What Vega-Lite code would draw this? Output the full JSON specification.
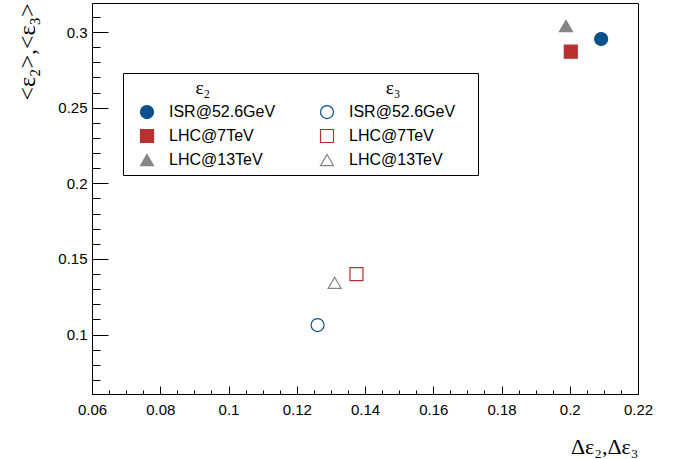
{
  "$schema": "https://vega.github.io/schema/vega-lite/v6.json",
  "width": 546,
  "height": 391,
  "autosize": {"type": "none"},
  "padding": {"left": 92, "top": 3, "right": 48, "bottom": 65},
  "background": "white",
  "config": {
    "view": {"stroke": "black", "strokeWidth": 1},
    "axis": {
      "grid": false,
      "domain": false,
      "tickColor": "black",
      "tickWidth": 1,
      "labelFont": "Liberation Sans",
      "labelFontSize": 15,
      "labelColor": "black",
      "labelFlush": false,
      "labelOverlap": false,
      "titleFont": "Liberation Serif",
      "titleFontWeight": "normal",
      "titleColor": "black",
      "titleFontSize": 22
    },
    "legend": {
      "orient": "none", "legendX": 31, "legendY": 70, "columns": 2, "gridAlign": "all",
      "strokeColor": "black", "fillColor": "white", "padding": 6,
      "symbolOffset": 10, "labelOffset": 14, "columnPadding": 33, "rowPadding": 6,
      "labelFont": "Liberation Sans", "labelFontSize": 16, "labelColor": "black",
      "titleFont": "Liberation Serif", "titleFontSize": 19, "titleFontWeight": "normal",
      "titleColor": "black", "titlePadding": 6, "titleLimit": 600,
      "symbolSize": 169, "symbolStrokeWidth": 1.2
    }
  },
  "data": {
    "values": [
      {"series": "ISR@52.6GeV|2", "x": 0.2092, "y": 0.2954},
      {"series": "ISR@52.6GeV|3", "x": 0.1261, "y": 0.1063},
      {"series": "LHC@7TeV|2", "x": 0.2003, "y": 0.287},
      {"series": "LHC@7TeV|3", "x": 0.1375, "y": 0.140},
      {"series": "LHC@13TeV|2", "x": 0.1989, "y": 0.304},
      {"series": "LHC@13TeV|3", "x": 0.1311, "y": 0.1342}
    ]
  },
  "resolve": {"axis": {"x": "independent", "y": "independent"}},
  "layer": [
    {
      "mark": {"type": "point", "filled": false, "opacity": 1, "strokeWidth": 1.2, "size": 169},
      "encoding": {
        "x": {
          "field": "x", "type": "quantitative",
          "scale": {"domain": [0.06, 0.22], "nice": false, "zero": false},
          "axis": {
            "orient": "bottom",
            "values": [0.06, 0.08, 0.1, 0.12, 0.14, 0.16, 0.18, 0.2, 0.22],
            "format": "~g",
            "tickSize": -8,
            "labelPadding": 16,
            "title": "Δε₂,Δε₃",
            "titleAnchor": "end",
            "titlePadding": 19
          }
        },
        "y": {
          "field": "y", "type": "quantitative",
          "scale": {"domain": [0.0607, 0.3192], "nice": false, "zero": false},
          "axis": {
            "orient": "left",
            "values": [0.1, 0.15, 0.2, 0.25, 0.3],
            "format": "~g",
            "tickSize": -16,
            "labelPadding": 21,
            "title": "<ε₂>,<ε₃>",
            "titleFontSize": 24,
            "titleAnchor": "end",
            "titlePadding": 18
          }
        },
        "shape": {
          "field": "series", "type": "nominal",
          "scale": {
            "domain": ["ISR@52.6GeV|2", "LHC@7TeV|2", "LHC@13TeV|2", "ISR@52.6GeV|3", "LHC@7TeV|3", "LHC@13TeV|3"],
            "range": ["circle", "square", "triangle-up", "circle", "square", "triangle-up"]
          },
          "legend": {
            "title": "\u200b\u00a0\u00a0\u00a0\u00a0\u00a0\u00a0\u00a0\u00a0\u00a0\u00a0\u00a0\u00a0\u00a0\u00a0ε₂\u00a0\u00a0\u00a0\u00a0\u00a0\u00a0\u00a0\u00a0\u00a0\u00a0\u00a0\u00a0\u00a0\u00a0\u00a0\u00a0\u00a0\u00a0\u00a0\u00a0\u00a0\u00a0\u00a0\u00a0\u00a0\u00a0\u00a0\u00a0\u00a0\u00a0\u00a0\u00a0\u00a0\u00a0\u00a0\u00a0\u00a0ε₃\u00a0\u00a0\u00a0\u00a0\u00a0\u00a0\u00a0\u00a0\u00a0\u00a0\u00a0\u00a0\u00a0\u00a0\u00a0\u200b",
            "labelExpr": "split(datum.label, '|')[0]"
          }
        },
        "color": {
          "field": "series", "type": "nominal",
          "scale": {
            "domain": ["ISR@52.6GeV|2", "LHC@7TeV|2", "LHC@13TeV|2", "ISR@52.6GeV|3", "LHC@7TeV|3", "LHC@13TeV|3"],
            "range": ["#0b4f8c", "#b8312f", "#858585", "#0b4f8c", "#b8312f", "#858585"]
          },
          "legend": {
            "title": "\u200b\u00a0\u00a0\u00a0\u00a0\u00a0\u00a0\u00a0\u00a0\u00a0\u00a0\u00a0\u00a0\u00a0\u00a0ε₂\u00a0\u00a0\u00a0\u00a0\u00a0\u00a0\u00a0\u00a0\u00a0\u00a0\u00a0\u00a0\u00a0\u00a0\u00a0\u00a0\u00a0\u00a0\u00a0\u00a0\u00a0\u00a0\u00a0\u00a0\u00a0\u00a0\u00a0\u00a0\u00a0\u00a0\u00a0\u00a0\u00a0\u00a0\u00a0\u00a0\u00a0ε₃\u00a0\u00a0\u00a0\u00a0\u00a0\u00a0\u00a0\u00a0\u00a0\u00a0\u00a0\u00a0\u00a0\u00a0\u00a0\u200b",
            "labelExpr": "split(datum.label, '|')[0]"
          }
        },
        "fill": {
          "field": "series", "type": "nominal",
          "scale": {
            "domain": ["ISR@52.6GeV|2", "LHC@7TeV|2", "LHC@13TeV|2", "ISR@52.6GeV|3", "LHC@7TeV|3", "LHC@13TeV|3"],
            "range": ["#0b4f8c", "#b8312f", "#858585", "transparent", "transparent", "transparent"]
          },
          "legend": {
            "title": "\u200b\u00a0\u00a0\u00a0\u00a0\u00a0\u00a0\u00a0\u00a0\u00a0\u00a0\u00a0\u00a0\u00a0\u00a0ε₂\u00a0\u00a0\u00a0\u00a0\u00a0\u00a0\u00a0\u00a0\u00a0\u00a0\u00a0\u00a0\u00a0\u00a0\u00a0\u00a0\u00a0\u00a0\u00a0\u00a0\u00a0\u00a0\u00a0\u00a0\u00a0\u00a0\u00a0\u00a0\u00a0\u00a0\u00a0\u00a0\u00a0\u00a0\u00a0\u00a0\u00a0ε₃\u00a0\u00a0\u00a0\u00a0\u00a0\u00a0\u00a0\u00a0\u00a0\u00a0\u00a0\u00a0\u00a0\u00a0\u00a0\u200b",
            "labelExpr": "split(datum.label, '|')[0]"
          }
        }
      }
    },
    {
      "mark": {"type": "point", "opacity": 0},
      "encoding": {
        "x": {
          "field": "x", "type": "quantitative",
          "scale": {"domain": [0.06, 0.22], "nice": false, "zero": false},
          "axis": {
            "orient": "bottom",
            "values": [0.06, 0.065, 0.07, 0.075, 0.08, 0.085, 0.09, 0.095, 0.1, 0.105, 0.11, 0.115, 0.12, 0.125, 0.13, 0.135, 0.14, 0.145, 0.15, 0.155, 0.16, 0.165, 0.17, 0.175, 0.18, 0.185, 0.19, 0.195, 0.2, 0.205, 0.21, 0.215, 0.22],
            "labels": false,
            "tickSize": -4,
            "title": null
          }
        },
        "y": {
          "field": "y", "type": "quantitative",
          "scale": {"domain": [0.0607, 0.3192], "nice": false, "zero": false},
          "axis": {
            "orient": "left",
            "values": [0.07, 0.08, 0.09, 0.1, 0.11, 0.12, 0.13, 0.14, 0.15, 0.16, 0.17, 0.18, 0.19, 0.2, 0.21, 0.22, 0.23, 0.24, 0.25, 0.26, 0.27, 0.28, 0.29, 0.3, 0.31],
            "labels": false,
            "tickSize": -8,
            "title": null
          }
        }
      }
    }
  ]
}
